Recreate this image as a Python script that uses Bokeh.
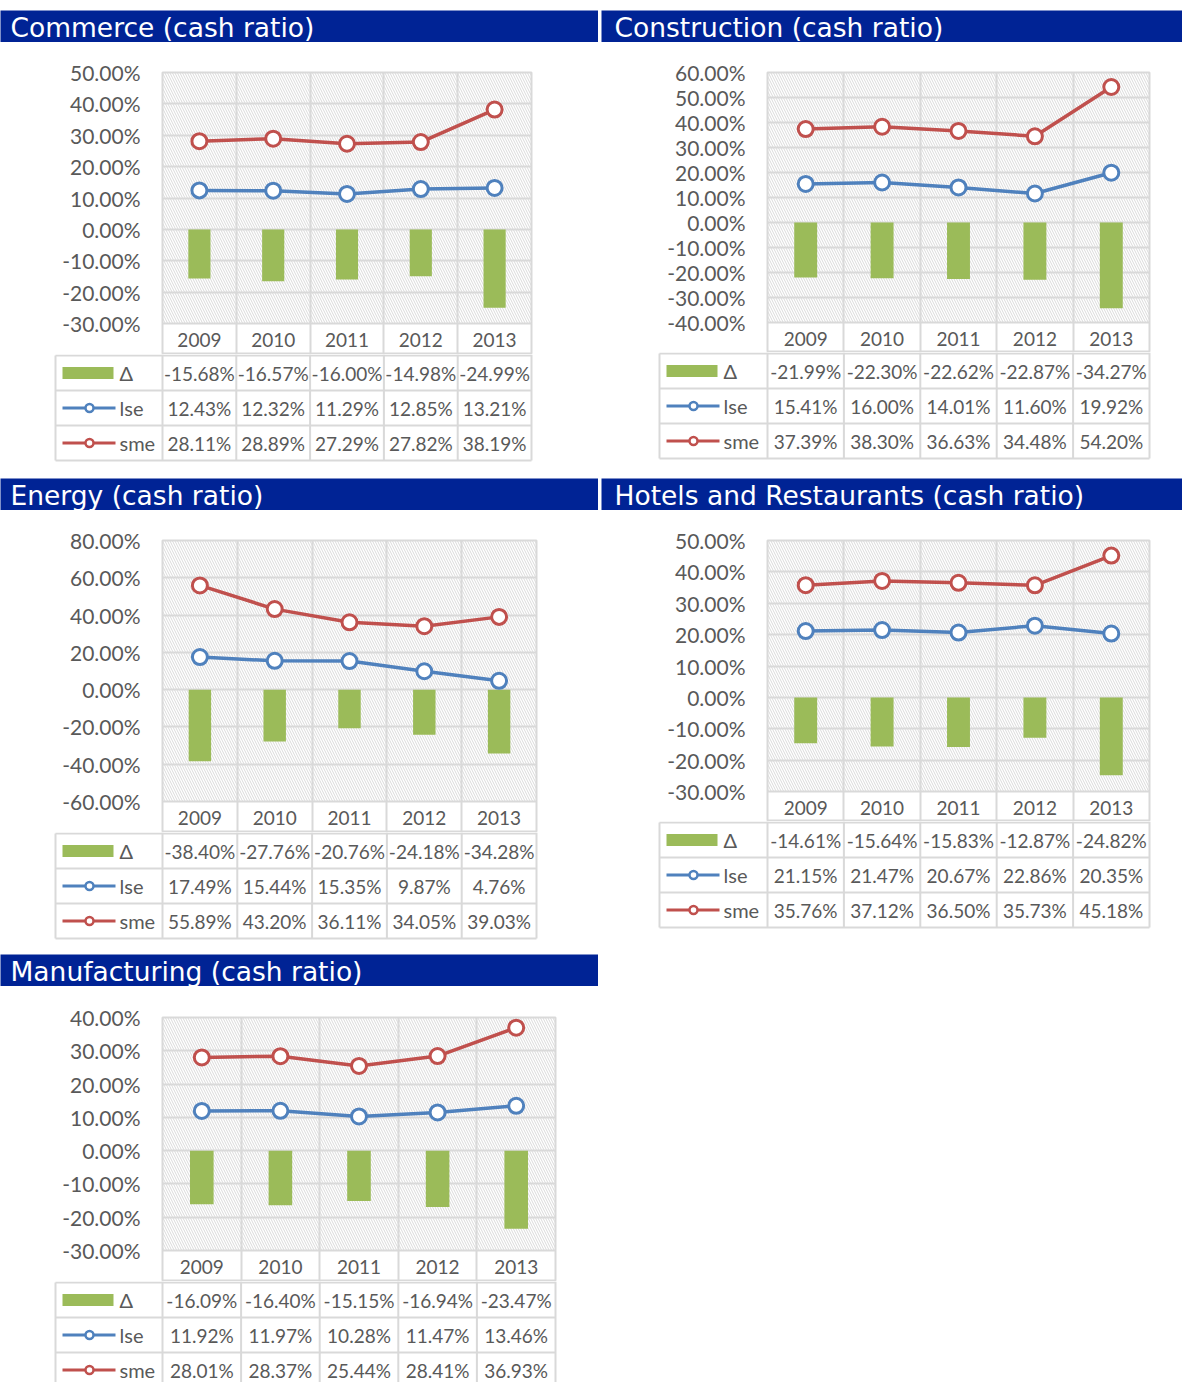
from bokeh.plotting import figure
from bokeh.models import Range1d, FixedTicker, PrintfTickFormatter, Grid, Spacer, LinearAxis
from bokeh.layouts import column, row
from bokeh.embed import file_html
from bokeh.resources import INLINE
from bokeh.core.properties import value

# ---------------- data ----------------
years = ["2009", "2010", "2011", "2012", "2013"]

commerce_delta = [-15.68, -16.57, -16.00, -14.98, -24.99]
commerce_lse = [12.43, 12.32, 11.29, 12.85, 13.21]
commerce_sme = [28.11, 28.89, 27.29, 27.82, 38.19]
commerce_ticks = [-30, -20, -10, 0, 10, 20, 30, 40, 50]

construction_delta = [-21.99, -22.30, -22.62, -22.87, -34.27]
construction_lse = [15.41, 16.00, 14.01, 11.60, 19.92]
construction_sme = [37.39, 38.30, 36.63, 34.48, 54.20]
construction_ticks = [-40, -30, -20, -10, 0, 10, 20, 30, 40, 50, 60]

energy_delta = [-38.40, -27.76, -20.76, -24.18, -34.28]
energy_lse = [17.49, 15.44, 15.35, 9.87, 4.76]
energy_sme = [55.89, 43.20, 36.11, 34.05, 39.03]
energy_ticks = [-60, -40, -20, 0, 20, 40, 60, 80]

hotels_delta = [-14.61, -15.64, -15.83, -12.87, -24.82]
hotels_lse = [21.15, 21.47, 20.67, 22.86, 20.35]
hotels_sme = [35.76, 37.12, 36.50, 35.73, 45.18]
hotels_ticks = [-30, -20, -10, 0, 10, 20, 30, 40, 50]

manufacturing_delta = [-16.09, -16.40, -15.15, -16.94, -23.47]
manufacturing_lse = [11.92, 11.97, 10.28, 11.47, 13.46]
manufacturing_sme = [28.01, 28.37, 25.44, 28.41, 36.93]
manufacturing_ticks = [-30, -20, -10, 0, 10, 20, 30, 40]

series_names = ["\u0394", "lse", "sme"]

# ---------------- style ----------------
BLUE = "#4F81BD"
RED = "#C0504D"
GREEN = "#9BBB59"
HEAD = "#002395"
GRID = "#D9D9D9"
HATCH = "#DADADA"
TXT = "#595959"
NUM_FONT = "Lato"
TITLE_FONT = "DejaVu Sans"
ROW_H = 35


def base_fig(**kw):
    return figure(x_axis_type=None, y_axis_type=None, toolbar_location=None,
                  output_backend="svg", frame_align=False, **kw)


def make_title(text, width, pad):
    p = base_fig(width=width, height=32, x_range=Range1d(0, width), y_range=Range1d(0, 32),
                 min_border=0, outline_line_color=None,
                 background_fill_color=HEAD, border_fill_color=HEAD)
    p.text(x=[pad], y=[15], text=[text], text_color="white",
           text_font=value(TITLE_FONT), text_font_size="26.5px",
           text_baseline="middle", text_align="left")
    return p


def make_chart(width, fig_top, frame_top, plot_bottom, cat_bottom, frame_bottom,
               b_left, frame_w, ticks, delta, lse, sme):
    n = len(years)
    xs = [i + 0.5 for i in range(n)]
    tmin, tmax = ticks[0], ticks[-1]
    k = (plot_bottom - frame_top) / (tmax - tmin)          # px per percent
    ystart = tmin - (frame_bottom - plot_bottom) / k
    p = base_fig(width=width, height=frame_bottom - fig_top,
                 x_range=Range1d(0, n), y_range=Range1d(ystart, tmax),
                 min_border_left=b_left, min_border_right=width - b_left - frame_w,
                 min_border_top=frame_top - fig_top, min_border_bottom=0,
                 outline_line_color=GRID, outline_line_width=2,
                 background_fill_color="white", border_fill_color="white")
    p.quad(left=[0], right=[n], bottom=[tmin], top=[tmax],
           fill_color=None, line_color=None, hatch_pattern="\\",
           hatch_color=HATCH, hatch_weight=1, hatch_scale=5, level="image")
    yaxis = LinearAxis(ticker=FixedTicker(ticks=ticks),
                       formatter=PrintfTickFormatter(format="%.2f%%"),
                       axis_line_color=None, major_tick_line_color=None,
                       minor_tick_line_color=None, major_tick_out=0, major_tick_in=0,
                       minor_tick_out=0, minor_tick_in=0, major_label_standoff=22,
                       major_label_text_font=NUM_FONT, major_label_text_font_size="21px",
                       major_label_text_color=TXT)
    p.add_layout(yaxis, "left")
    p.add_layout(Grid(dimension=1, ticker=FixedTicker(ticks=ticks),
                      grid_line_color=GRID, grid_line_width=2))
    p.add_layout(Grid(dimension=0, ticker=FixedTicker(ticks=list(range(n + 1))),
                      grid_line_color=GRID, grid_line_width=2))
    p.vbar(x=xs, top=delta, bottom=0, width=0.3, fill_color=GREEN, line_color=None)
    for ser, col in ((lse, BLUE), (sme, RED)):
        p.line(xs, ser, line_color=col, line_width=3.5)
        p.scatter(xs, ser, marker="circle", size=15, fill_color="white",
                  line_color=col, line_width=3)
    # category row (years) below the plot area
    ycat = tmin - ((cat_bottom - plot_bottom) / 2) / k
    p.text(x=xs, y=[ycat] * n, text=years, text_align="center",
           text_baseline="middle", text_font=value(NUM_FONT),
           text_font_size="19px", text_color=TXT)
    return p


def make_table(width, fig_top, fig_bottom, first_line, table_left, b_left, frame_w,
               delta, lse, sme):
    n = len(years)
    col_w = frame_w / n
    legend_w = b_left - table_left
    pad = 3
    L = legend_w / col_w
    height = fig_bottom - fig_top
    off = first_line - fig_top
    p = base_fig(width=width, height=height,
                 x_range=Range1d(-(legend_w + pad) / col_w, n + pad / col_w),
                 y_range=Range1d(height - off, -off),
                 min_border_left=table_left - pad,
                 min_border_right=width - b_left - frame_w - pad,
                 min_border_top=0, min_border_bottom=0,
                 outline_line_color=None,
                 background_fill_color="white", border_fill_color="white")
    bottom = 3 * ROW_H
    hy = [k * ROW_H for k in range(4)]
    p.segment(x0=[-L] * 4, y0=hy, x1=[n] * 4, y1=hy, line_color=GRID, line_width=2)
    vx = list(range(n + 1))
    p.segment(x0=vx, y0=[-off] * (n + 1), x1=vx, y1=[bottom] * (n + 1),
              line_color=GRID, line_width=2)
    p.segment(x0=[-L], y0=[0], x1=[-L], y1=[bottom], line_color=GRID, line_width=2)

    xs = [i + 0.5 for i in range(n)]
    ycs = [ROW_H * (r + 0.5) for r in range(3)]
    for yc, ser in zip(ycs, (delta, lse, sme)):
        p.text(x=xs, y=[yc] * n, text=["%.2f%%" % v for v in ser],
               text_align="center", text_baseline="middle",
               text_font=value(NUM_FONT), text_font_size="19px", text_color=TXT)

    # legend column
    def px(v):
        return (v - legend_w) / col_w
    p.text(x=[px(64)] * 3, y=ycs, text=series_names, text_align="left",
           text_baseline="middle", text_font=value(NUM_FONT),
           text_font_size="20px", text_color=TXT)
    p.quad(left=[px(7)], right=[px(58)], top=[ycs[0] - 6], bottom=[ycs[0] + 6],
           fill_color=GREEN, line_color=None)
    for yc, col in ((ycs[1], BLUE), (ycs[2], RED)):
        p.segment(x0=[px(7)], y0=[yc], x1=[px(60)], y1=[yc], line_color=col, line_width=3)
        p.scatter(x=[px(34)], y=[yc], marker="circle", size=8, fill_color="white",
                  line_color=col, line_width=2.5)
    return p


# ---------------- layout (page pixels) ----------------
LW = 598   # left column width
RW = 581   # right column width


def panel(title, width, title_pad, title_top, frame_top, plot_bottom, cat_bottom,
          next_top, b_left, frame_w, table_left, ticks, delta, lse, sme):
    fig_top = title_top + 32
    split = cat_bottom - 2
    t = make_title(title, width, title_pad)
    c = make_chart(width, fig_top, frame_top, plot_bottom, cat_bottom, split,
                   b_left, frame_w, ticks, delta, lse, sme)
    tb = make_table(width, split, next_top, cat_bottom - 1, table_left, b_left, frame_w,
                    delta, lse, sme)
    return [t, c, tb]


p1 = panel("Commerce (cash ratio)", LW, 10, 10, 72, 323, 356, 478, 162, 369, 55,
           commerce_ticks, commerce_delta, commerce_lse, commerce_sme)
p3 = panel("Energy (cash ratio)", LW, 10, 478, 540, 801, 834, 954, 162, 374, 55,
           energy_ticks, energy_delta, energy_lse, energy_sme)
p5 = panel("Manufacturing (cash ratio)", LW, 10, 954, 1017, 1250, 1283, 1382, 162, 393, 55,
           manufacturing_ticks, manufacturing_delta, manufacturing_lse, manufacturing_sme)
p2 = panel("Construction (cash ratio)", RW, 13, 10, 72, 322, 354, 478, 166, 382, 58,
           construction_ticks, construction_delta, construction_lse, construction_sme)
p4 = panel("Hotels and Restaurants (cash ratio)", RW, 13, 478, 540, 791, 823, 940, 166, 382, 58,
           hotels_ticks, hotels_delta, hotels_lse, hotels_sme)

left = column([Spacer(width=LW, height=10)] + p1 + p3 + p5, spacing=0)
right = column([Spacer(width=RW, height=10)] + p2 + p4, spacing=0)
page = row(left, Spacer(width=3, height=10), right, spacing=0)

open("out.html", "w").write(file_html(page, INLINE))
